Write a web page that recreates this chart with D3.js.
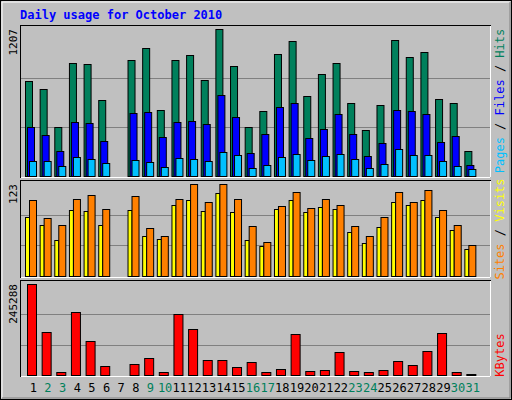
<!DOCTYPE html>
<html>
<head>
<meta charset="utf-8">
<script src="https://cdn.jsdelivr.net/npm/d3@7"></script>
<style>
  body { margin: 0; background: #fff; }
  text { font-family: "DejaVu Sans Mono", monospace; }
</style>
</head>
<body>
<svg id="chart" width="512" height="400"></svg>
<script>
var days = d3.range(1, 32);
var weekend = [2, 3, 9, 10, 16, 17, 23, 24, 30, 31];

var hits  = [780,714,402,928,920,624,0,952,1051,542,952,994,788,1207,903,402,534,1002,1108,657,837,928,599,378,583,1117,977,1018,632,599,205];
var files = [402,337,205,443,435,287,0,517,525,320,443,452,427,665,484,189,345,567,599,312,386,509,345,164,271,542,534,509,279,328,90];
var pages = [123,123,82,156,140,107,0,131,115,74,148,140,123,197,172,66,90,156,181,131,164,181,140,66,99,222,172,172,123,82,57];
var visits = [79,68,48,88,87,68,0,88,54,50,95,101,87,111,85,48,40,89,101,85,92,89,59,44,66,99,95,101,79,62,36];
var sites  = [101,77,68,103,108,89,0,107,64,54,103,123,99,123,103,67,46,93,112,91,103,95,67,54,79,112,99,115,88,68,42];
var kbFrac = [1,.474,.036,.693,.376,.102,0,.124,.19,.036,.672,.507,.168,.168,.091,.146,.036,.069,.453,.047,.058,.255,.047,.036,.058,.157,.113,.266,.464,.036,.015];
var kbytes = kbFrac.map(function (f) { return Math.round(f * 245288); });

var svg = d3.select("#chart");

// frame
svg.append("rect").attr("x", 0.5).attr("y", 0.5).attr("width", 511).attr("height", 399).attr("fill", "#c0c0c0").attr("stroke", "#000");
svg.append("path").attr("d", "M2,398V2H510").attr("fill", "none").attr("stroke", "#fff");
svg.append("path").attr("d", "M2,398H510V2").attr("fill", "none").attr("stroke", "#808080");

svg.append("text").attr("x", 20).attr("y", 19).attr("fill", "#0000ff")
  .style("font-weight", "bold").style("font-size", "12px").text("Daily usage for October 2010");

var x = d3.scaleBand().domain(days).range([26, 480]).paddingInner(0);

function panel(top, bottom, max, label) {
  svg.append("rect").attr("x", 20.5).attr("y", top + 0.5).attr("width", 470).attr("height", bottom - top)
    .attr("fill", "#c0c0c0").attr("stroke", "#000");
  svg.append("path").attr("d", "M21," + (bottom + 0.5) + "H490.5V" + (top + 1))
    .attr("fill", "none").attr("stroke", "#fff");
  var y = d3.scaleLinear().domain([0, max]).range([bottom - 1, top + 4]);
  [max / 3, max * 2 / 3].forEach(function (v) {
    svg.append("line").attr("x1", 21).attr("x2", 490).attr("y1", Math.round(y(v)) + 0.5).attr("y2", Math.round(y(v)) + 0.5)
      .attr("stroke", "#808080");
  });
  svg.append("text").attr("transform", "translate(17," + (top + 4) + ") rotate(-90)")
    .attr("text-anchor", "end").style("font-size", "11px").attr("fill", "#000").text(label);
  return y;
}

function bars(data, y, dx, w, fill) {
  svg.append("g").selectAll("rect").data(days.filter(function (d) { return data[d - 1] > 0; }))
    .join("rect")
    .attr("x", function (d) { return x(d) + dx + 0.5; })
    .attr("y", function (d) { return Math.round(y(data[d - 1])) + 0.5; })
    .attr("width", w)
    .attr("height", function (d) { return y(0) - Math.round(y(data[d - 1])); })
    .attr("fill", fill).attr("stroke", "#000");
}

var y1 = panel(25, 177, 1207, "1207");
bars(hits, y1, -1, 7, "#00805c");
bars(files, y1, 1, 7, "#0000ff");
bars(pages, y1, 3, 7, "#00c0ff");

var y2 = panel(180, 277, 123, "123");
bars(visits, y2, -1, 4, "#ffff00");
bars(sites, y2, 3, 7, "#ff8000");

var y3 = panel(280, 376, 245288, "245288");
bars(kbytes, y3, 1, 9, "#ff0000");

// day labels
svg.append("g").selectAll("text").data(days).join("text")
  .attr("x", function (d) { return x(d) + x.bandwidth() / 2; }).attr("y", 392)
  .attr("text-anchor", "middle").style("font-size", "12px")
  .attr("fill", function (d) { return weekend.indexOf(d) >= 0 ? "#00805c" : "#000"; })
  .text(function (d) { return d; });

// right legends, read bottom to top
function legend(cy, parts) {
  var t = svg.append("text").attr("transform", "translate(504," + cy + ") rotate(-90)")
    .attr("text-anchor", "middle").style("font-size", "12px");
  parts.forEach(function (p) { t.append("tspan").attr("fill", p[1]).text(p[0]); });
}
legend(101, [["Pages", "#00c0ff"], [" / ", "#000"], ["Files", "#0000ff"], [" / ", "#000"], ["Hits", "#00805c"]]);
legend(229, [["Sites", "#ff8000"], [" / ", "#000"], ["Visits", "#ffff00"]]);
legend(355, [["KBytes", "#ff0000"]]);
</script>
</body>
</html>
